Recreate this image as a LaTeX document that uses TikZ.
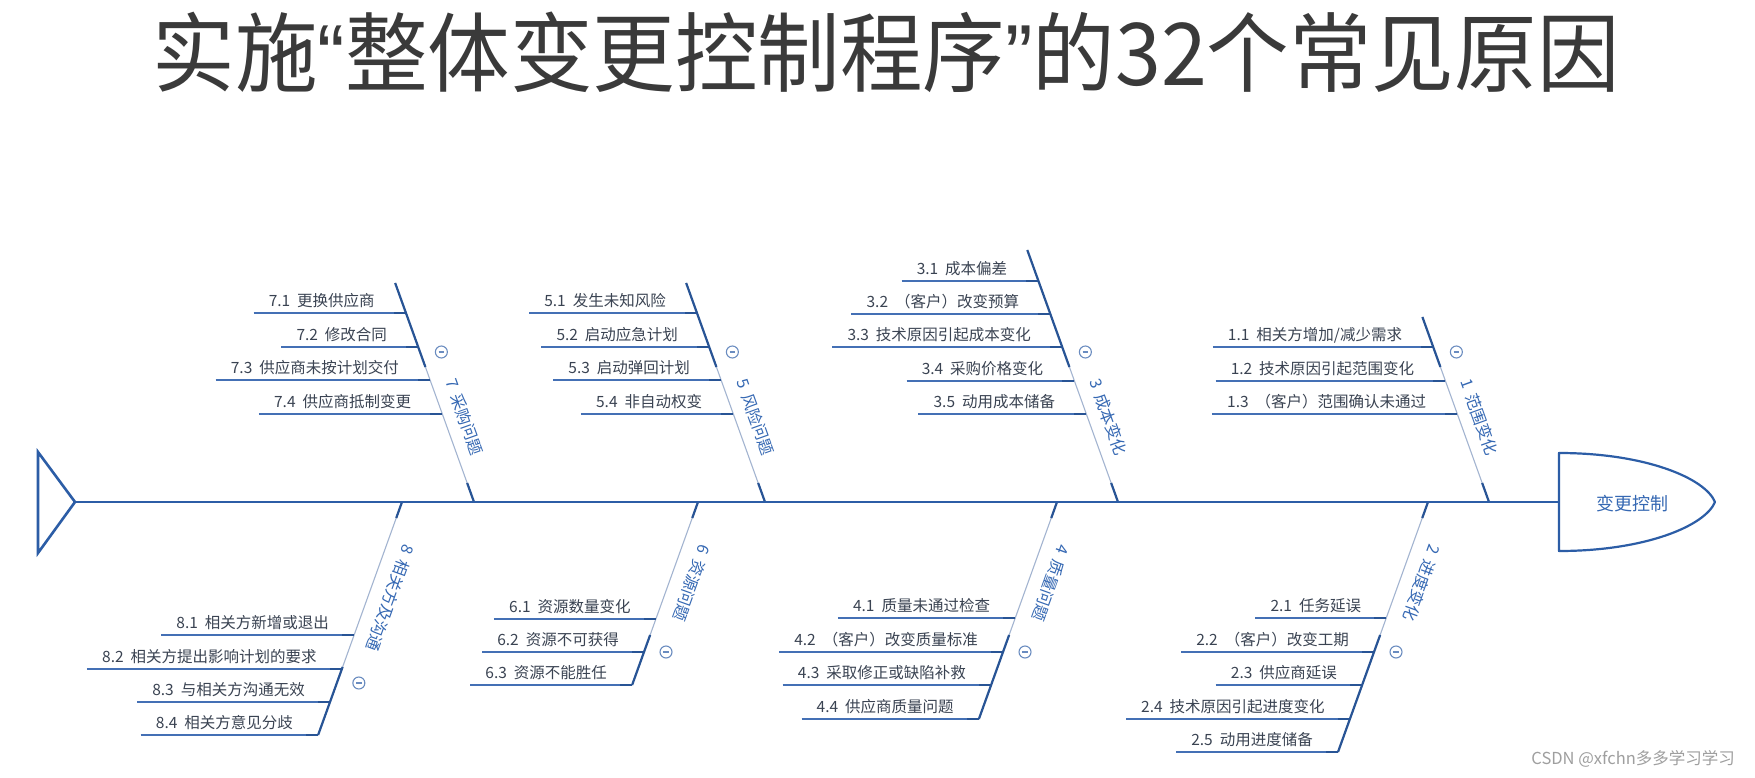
\documentclass[tikz,border=0pt]{standalone}
\usepackage{fontspec}
\setmainfont{Noto Sans CJK SC}
\newfontfamily\qfont{Liberation Sans}
\usepackage{graphicx}
\usetikzlibrary{calc}
\definecolor{spinec}{HTML}{2C5DA6}
\definecolor{thinc}{HTML}{A3B4D0}
\definecolor{sublc}{HTML}{4470B5}
\definecolor{subtc}{HTML}{3A4352}
\definecolor{lblc}{HTML}{3568B3}
\definecolor{circc}{HTML}{6A8CC0}
\definecolor{titlec}{HTML}{3A3A3A}
\tikzset{
 x=1pt, y=-1pt,
 spineline/.style={draw=spinec, line width=2.6pt},
 thinbone/.style={draw=thinc, line width=1.1pt},
 thickbone/.style={draw=spinec!90!black, line width=2.2pt},
 subline/.style={draw=sublc, line width=1.4pt},
 tickline/.style={draw=spinec!90!black, line width=2pt},
 subtext/.style={text=subtc, font=\fontsize{15.5}{18}\selectfont, inner sep=0pt},
 bonelabel/.style={text=lblc, font=\fontsize{16}{19}\selectfont, inner sep=0pt},
 mcirc/.style={circle, draw=circc, line width=1.1pt, minimum size=12pt, inner sep=0pt},
 mbar/.style={draw=circc, line width=1.1pt},
}
\newcommand\gp{\hspace{0.45em}}
\newcommand\upbone[4]{%
  \coordinate (#1base) at (#2,502);
  \coordinate (#1top) at ({#2-0.36*(502-#3)},#3);
  \coordinate (#1k) at ({#2-0.36*135},367);
  \coordinate (#1m) at ({#2-0.36*19},483);
  \draw[thinbone] (#1top) -- (#1base);
  \draw[thickbone] (#1top) -- (#1k);
  \draw[thickbone] (#1m) -- (#1base);
  \node[bonelabel, rotate=-70.2, anchor=west] (#1lab) at ({#2-0.36*123+21},379) {#4};
  \node[mcirc] (#1c) at ({#2-0.36*149+21},352) {};
  \draw[mbar] ([xshift=-2.8pt]#1c.center) -- ([xshift=2.8pt]#1c.center);
}
\newcommand\upitem[4]{%
  \coordinate (#1) at ({#2-0.36*(502-#3)},#3);
  \node[subtext, anchor=base east] (#1t) at ([shift={(-31pt,7pt)}]#1) {#4};
  \draw[subline] ($(#1t.west |- #1)+(-15,0)$) -- (#1);
  \draw[tickline] (#1) -- ++(-12,0);
}
\newcommand\lowbone[6]{%
  \coordinate (#1top) at (#2,502);
  \coordinate (#1bot) at ({#2-0.36*(#3-502)},#3);
  \coordinate (#1k) at ({#2-0.36*16},518);
  \coordinate (#1m) at ({#2-0.36*(#5-502)},#5);
  \draw[thinbone] (#1top) -- (#1bot);
  \draw[thickbone] (#1top) -- (#1k);
  \draw[thickbone] (#1m) -- (#1bot);
  \node[bonelabel, rotate=-109.8, anchor=west] (#1lab) at ({#2-0.36*43+23},545) {#4};
  \node[mcirc] (#1c) at ({#2-0.36*(#6-502)+22},#6) {};
  \draw[mbar] ([xshift=-2.8pt]#1c.center) -- ([xshift=2.8pt]#1c.center);
}
\newcommand\lowitem[4]{%
  \coordinate (#1) at ({#2-0.36*(#3-502)},#3);
  \node[subtext, anchor=base east] (#1t) at ([shift={(-25pt,7pt)}]#1) {#4};
  \draw[subline] ($(#1t.west |- #1)+(-15,0)$) -- (#1);
  \draw[tickline] (#1) -- ++(-12,0);
}
\begin{document}
\begin{tikzpicture}
\fill[white] (0,0) rectangle (1755,778);
\useasboundingbox (0,0) rectangle (1755,778);

% title
\node[text=titlec, inner sep=0pt] (title) at (886,52)
  {\scalebox{1}[1.05]{\resizebox{1467pt}{!}{\fontsize{80}{90}\selectfont 实施{\qfont “}整体变更控制程序{\qfont ”}的32个常见原因}}};

% upper bones
\upbone{b7}{474}{283}{7\gp 采购问题}
\upitem{i71}{474}{313}{7.1\gp 更换供应商}
\upitem{i72}{474}{347}{7.2\gp 修改合同}
\upitem{i73}{474}{380}{7.3\gp 供应商未按计划交付}
\upitem{i74}{474}{414}{7.4\gp 供应商抵制变更}

\upbone{b5}{765}{283}{5\gp 风险问题}
\upitem{i51}{765}{313}{5.1\gp 发生未知风险}
\upitem{i52}{765}{347}{5.2\gp 启动应急计划}
\upitem{i53}{765}{380}{5.3\gp 启动弹回计划}
\upitem{i54}{765}{414}{5.4\gp 非自动权变}

\upbone{b3}{1118}{250}{3\gp 成本变化}
\upitem{i31}{1118}{281}{3.1\gp 成本偏差}
\upitem{i32}{1118}{314}{3.2\gp （客户）改变预算}
\upitem{i33}{1118}{347}{3.3\gp 技术原因引起成本变化}
\upitem{i34}{1118}{381}{3.4\gp 采购价格变化}
\upitem{i35}{1118}{414}{3.5\gp 动用成本储备}

\upbone{b1}{1489}{317}{1\gp 范围变化}
\upitem{i11}{1489}{347}{1.1\gp 相关方增加/减少需求}
\upitem{i12}{1489}{381}{1.2\gp 技术原因引起范围变化}
\upitem{i13}{1489}{414}{1.3\gp （客户）范围确认未通过}

% lower bones
\lowbone{b8}{402}{735}{8\gp 相关方及沟通}{667}{683}
\lowitem{i81}{402}{635}{8.1\gp 相关方新增或退出}
\lowitem{i82}{402}{669}{8.2\gp 相关方提出影响计划的要求}
\lowitem{i83}{402}{702}{8.3\gp 与相关方沟通无效}
\lowitem{i84}{402}{735}{8.4\gp 相关方意见分歧}

\lowbone{b6}{698}{685}{6\gp 资源问题}{635}{652}
\lowitem{i61}{698}{619}{6.1\gp 资源数量变化}
\lowitem{i62}{698}{652}{6.2\gp 资源不可获得}
\lowitem{i63}{698}{685}{6.3\gp 资源不能胜任}

\lowbone{b4}{1057}{719}{4\gp 质量问题}{635}{652}
\lowitem{i41}{1057}{618}{4.1\gp 质量未通过检查}
\lowitem{i42}{1057}{652}{4.2\gp （客户）改变质量标准}
\lowitem{i43}{1057}{685}{4.3\gp 采取修正或缺陷补救}
\lowitem{i44}{1057}{719}{4.4\gp 供应商质量问题}

\lowbone{b2}{1428}{752}{2\gp 进度变化}{635}{652}
\lowitem{i21}{1428}{618}{2.1\gp 任务延误}
\lowitem{i22}{1428}{652}{2.2\gp （客户）改变工期}
\lowitem{i23}{1428}{685}{2.3\gp 供应商延误}
\lowitem{i24}{1428}{719}{2.4\gp 技术原因引起进度变化}
\lowitem{i25}{1428}{752}{2.5\gp 动用进度储备}

% tail, spine, head
\coordinate (tail) at (75,502);
\coordinate (tailtop) at (38,452);
\coordinate (tailbot) at (38,553);
\coordinate (hl) at (1559,502);
\draw[spineline, line join=miter] (tailtop) -- (tail) -- (tailbot) -- cycle;
\draw[spineline] (tail) -- (hl);
\draw[spineline, line width=2.2pt, line join=round] (1559,453) .. controls (1645,453) and (1705,478) .. (1715,502)
  .. controls (1705,526) and (1645,551) .. (1559,551) -- cycle;
\node[text=lblc, font=\fontsize{18}{20}\selectfont, inner sep=0pt] (head) at (1632,504) {变更控制};

% watermark
\node[anchor=east, text=gray!75, font=\fontsize{16.5}{18}\selectfont, inner sep=0pt] (wm) at (1735,759) {CSDN @xfchn多多学习学习};
\end{tikzpicture}
\end{document}
